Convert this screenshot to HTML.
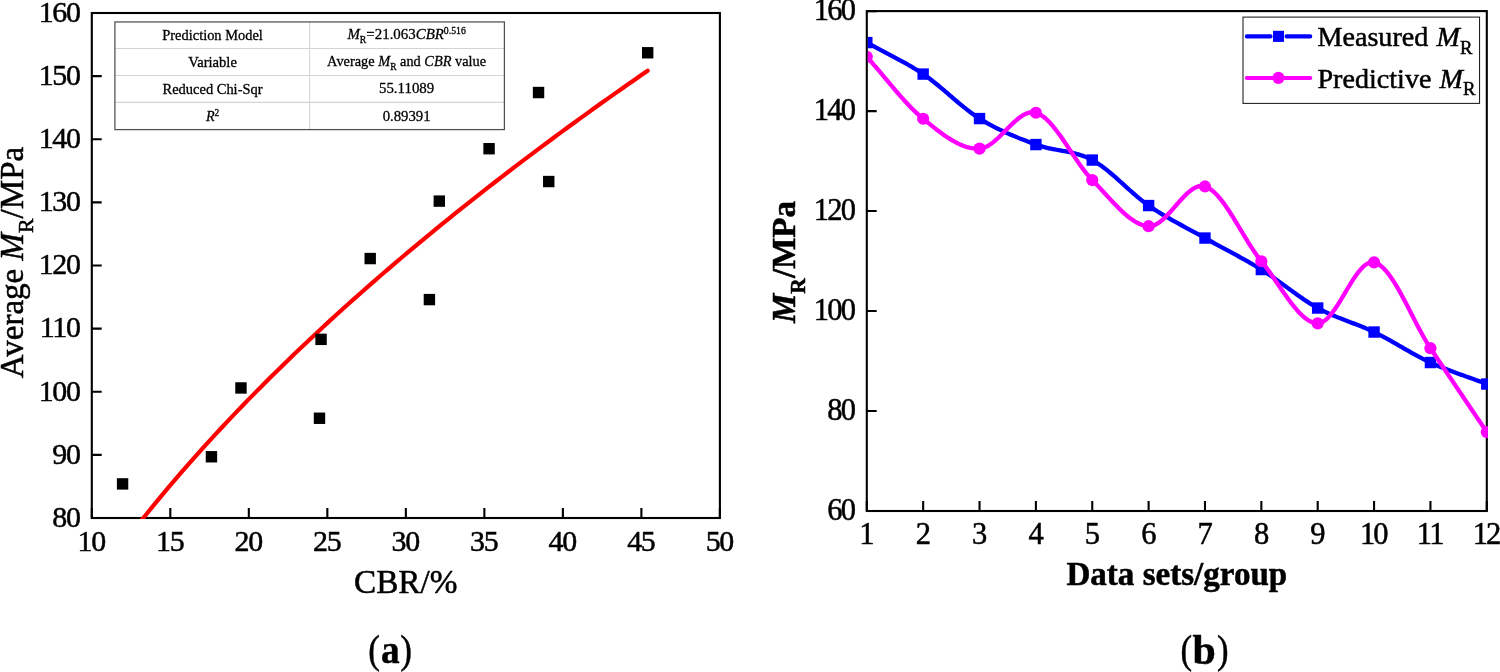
<!DOCTYPE html>
<html><head><meta charset="utf-8"><title>Figure</title>
<style>html,body{margin:0;padding:0;background:#fff;overflow:hidden}svg{display:block;will-change:transform}text{font-family:"Liberation Serif", serif;fill:#000;stroke:#000;stroke-width:0.5px;stroke-linejoin:round}</style></head><body>
<svg width="1500" height="672" viewBox="0 0 1500 672">
<rect x="0" y="0" width="1500" height="672" fill="#fff"/>
<defs>
<clipPath id="cl"><rect x="92.85" y="14.05" width="628.10" height="505.00"/></clipPath>
<clipPath id="cr"><rect x="867.85" y="12.15" width="620.00" height="499.90"/></clipPath>
</defs>
<g id="left">
<rect x="91.8" y="13.0" width="628.10" height="505.00" fill="none" stroke="#000" stroke-width="2.1"/>
<path d="M91.80,518.0v-9.9 M170.31,518.0v-9.9 M248.82,518.0v-9.9 M327.34,518.0v-9.9 M405.85,518.0v-9.9 M484.36,518.0v-9.9 M562.88,518.0v-9.9 M641.39,518.0v-9.9 M719.90,518.0v-9.9 M91.8,518.00h9.9 M91.8,454.88h9.9 M91.8,391.75h9.9 M91.8,328.62h9.9 M91.8,265.50h9.9 M91.8,202.38h9.9 M91.8,139.25h9.9 M91.8,76.12h9.9 M91.8,13.00h9.9" stroke="#000" stroke-width="2.1" fill="none"/>
<g clip-path="url(#cl)"><polyline points="122.58,544.56 129.22,535.89 135.87,527.37 142.52,518.98 149.16,510.73 155.81,502.59 162.46,494.57 169.10,486.67 175.75,478.87 182.40,471.18 189.04,463.59 195.69,456.09 202.34,448.68 208.98,441.36 215.63,434.13 222.28,426.98 228.92,419.91 235.57,412.92 242.22,406.00 248.86,399.15 255.51,392.37 262.16,385.66 268.80,379.02 275.45,372.44 282.10,365.92 288.75,359.46 295.39,353.06 302.04,346.71 308.69,340.43 315.33,334.19 321.98,328.01 328.63,321.88 335.27,315.80 341.92,309.77 348.57,303.78 355.21,297.84 361.86,291.95 368.51,286.10 375.15,280.30 381.80,274.53 388.45,268.81 395.09,263.13 401.74,257.49 408.39,251.88 415.03,246.32 421.68,240.79 428.33,235.30 434.97,229.84 441.62,224.42 448.27,219.04 454.91,213.68 461.56,208.36 468.21,203.07 474.85,197.82 481.50,192.59 488.15,187.40 494.79,182.24 501.44,177.10 508.09,172.00 514.73,166.92 521.38,161.87 528.03,156.85 534.67,151.86 541.32,146.89 547.97,141.95 554.61,137.03 561.26,132.14 567.91,127.28 574.55,122.44 581.20,117.62 587.85,112.83 594.49,108.06 601.14,103.32 607.79,98.60 614.43,93.90 621.08,89.22 627.73,84.56 634.38,79.93 641.02,75.32 647.67,70.72" fill="none" stroke="#ff0000" stroke-width="4.2" stroke-linecap="round" stroke-linejoin="round"/></g>
<rect x="641.97" y="47.07" width="11.4" height="11.4" fill="#000"/>
<rect x="532.84" y="86.84" width="11.4" height="11.4" fill="#000"/>
<rect x="483.37" y="143.02" width="11.4" height="11.4" fill="#000"/>
<rect x="543.04" y="175.84" width="11.4" height="11.4" fill="#000"/>
<rect x="433.60" y="195.41" width="11.4" height="11.4" fill="#000"/>
<rect x="364.51" y="252.86" width="11.4" height="11.4" fill="#000"/>
<rect x="423.70" y="293.89" width="11.4" height="11.4" fill="#000"/>
<rect x="315.36" y="333.66" width="11.4" height="11.4" fill="#000"/>
<rect x="235.27" y="382.26" width="11.4" height="11.4" fill="#000"/>
<rect x="313.79" y="412.56" width="11.4" height="11.4" fill="#000"/>
<rect x="205.75" y="451.07" width="11.4" height="11.4" fill="#000"/>
<rect x="116.88" y="478.21" width="11.4" height="11.4" fill="#000"/>
<g font-size="29.9" text-anchor="middle" letter-spacing="-1.3">
<text x="91.20" y="550.8">10</text>
<text x="169.71" y="550.8">15</text>
<text x="248.22" y="550.8">20</text>
<text x="326.74" y="550.8">25</text>
<text x="405.25" y="550.8">30</text>
<text x="483.76" y="550.8">35</text>
<text x="562.27" y="550.8">40</text>
<text x="640.79" y="550.8">45</text>
<text x="719.30" y="550.8">50</text>
</g>
<g font-size="29.9" text-anchor="end" letter-spacing="-1.3">
<text x="79.60" y="526.80">80</text>
<text x="79.60" y="463.68">90</text>
<text x="79.60" y="400.55">100</text>
<text x="79.60" y="337.43">110</text>
<text x="79.60" y="274.30">120</text>
<text x="79.60" y="211.18">130</text>
<text x="79.60" y="148.05">140</text>
<text x="79.60" y="84.92">150</text>
<text x="79.60" y="21.80">160</text>
</g>
<text transform="translate(405.70,592.70) scale(0.99,1)" font-size="33.6" text-anchor="middle" >CBR/%</text>
<text transform="translate(23.1,262.5) rotate(-90)" font-size="33.05" text-anchor="middle">Average <tspan font-style="italic">M</tspan><tspan font-size="21.8" dy="9.7">R</tspan><tspan dy="-9.7">/MPa</tspan></text>
<text transform="translate(379.90,663.20) scale(0.88,1)" font-size="40" text-anchor="end" >(</text>
<text transform="translate(390.20,663.30) scale(0.925,1)" font-size="40.3" text-anchor="middle" font-weight="bold">a</text>
<text transform="translate(400.30,663.20) scale(0.88,1)" font-size="40" text-anchor="start" >)</text>
<rect x="114.9" y="21.95" width="389.50" height="107.65" fill="#fff"/>
<path d="M114.9,48.5H504.4 M114.9,75.5H504.4 M114.9,102.4H504.4 M309.6,21.95V129.6" stroke="#d4d4d4" stroke-width="1.1" fill="none"/>
<rect x="114.9" y="21.95" width="389.50" height="107.65" fill="none" stroke="#505050" stroke-width="1.25"/>
<g>
</g>
<text transform="translate(212.55,40.08) scale(0.943,1)" font-size="15.3" text-anchor="middle" style="stroke-width:0.3px">Prediction Model</text>
<text transform="translate(406.60,39.28) scale(0.975,1)" font-size="15.3" text-anchor="middle" style="stroke-width:0.3px"><tspan font-style="italic">M</tspan><tspan font-size="10" dy="4.2">R</tspan><tspan dy="-4.2">=21.063</tspan><tspan font-style="italic">CBR</tspan><tspan font-size="10" dy="-5.5">0.516</tspan></text>
<text transform="translate(212.55,66.85) scale(0.956,1)" font-size="15.3" text-anchor="middle" style="stroke-width:0.3px">Variable</text>
<text transform="translate(406.60,65.95) scale(0.938,1)" font-size="15.3" text-anchor="middle" style="stroke-width:0.3px">Average <tspan font-style="italic">M</tspan><tspan font-size="10" dy="4.2">R</tspan><tspan dy="-4.2"> and </tspan><tspan font-style="italic">CBR</tspan> value</text>
<text transform="translate(212.55,93.80) scale(0.946,1)" font-size="15.3" text-anchor="middle" style="stroke-width:0.3px">Reduced Chi-Sqr</text>
<text transform="translate(406.60,93.40) scale(0.975,1)" font-size="15.3" text-anchor="middle" style="stroke-width:0.3px">55.11089</text>
<text transform="translate(212.55,121.25) scale(0.93,1)" font-size="15.3" text-anchor="middle" style="stroke-width:0.3px"><tspan font-style="italic">R</tspan><tspan font-size="10" dy="-5.5">2</tspan></text>
<text transform="translate(406.60,120.65) scale(0.965,1)" font-size="15.3" text-anchor="middle" style="stroke-width:0.3px">0.89391</text>
</g>
<g id="right">
<rect x="866.8" y="11.1" width="620.00" height="499.90" fill="none" stroke="#000" stroke-width="2.1"/>
<path d="M866.80,511.0v-9.9 M923.16,511.0v-9.9 M979.53,511.0v-9.9 M1035.89,511.0v-9.9 M1092.25,511.0v-9.9 M1148.62,511.0v-9.9 M1204.98,511.0v-9.9 M1261.35,511.0v-9.9 M1317.71,511.0v-9.9 M1374.07,511.0v-9.9 M1430.44,511.0v-9.9 M1486.80,511.0v-9.9 M866.8,511.00h9.9 M866.8,411.02h9.9 M866.8,311.04h9.9 M866.8,211.06h9.9 M866.8,111.08h9.9 M866.8,11.10h9.9" stroke="#000" stroke-width="2.1" fill="none"/>
<g clip-path="url(#cr)">
<polyline points="866.80,42.59 868.68,43.64 870.56,44.67 872.44,45.68 874.32,46.69 876.19,47.69 878.07,48.68 879.95,49.67 881.83,50.65 883.71,51.63 885.59,52.61 887.47,53.59 889.35,54.57 891.22,55.55 893.10,56.54 894.98,57.53 896.86,58.53 898.74,59.54 900.62,60.55 902.50,61.58 904.38,62.63 906.25,63.68 908.13,64.76 910.01,65.85 911.89,66.96 913.77,68.09 915.65,69.24 917.53,70.41 919.41,71.61 921.28,72.84 923.16,74.09 925.04,75.38 926.92,76.71 928.80,78.09 930.68,79.51 932.56,80.96 934.44,82.45 936.32,83.96 938.19,85.50 940.07,87.06 941.95,88.64 943.83,90.23 945.71,91.84 947.59,93.45 949.47,95.06 951.35,96.68 953.22,98.29 955.10,99.89 956.98,101.49 958.86,103.07 960.74,104.64 962.62,106.18 964.50,107.70 966.38,109.19 968.25,110.66 970.13,112.08 972.01,113.47 973.89,114.82 975.77,116.12 977.65,117.38 979.53,118.58 981.41,119.74 983.28,120.87 985.16,121.97 987.04,123.05 988.92,124.10 990.80,125.13 992.68,126.13 994.56,127.11 996.44,128.07 998.32,129.00 1000.19,129.92 1002.07,130.81 1003.95,131.69 1005.83,132.55 1007.71,133.39 1009.59,134.21 1011.47,135.02 1013.35,135.82 1015.22,136.60 1017.10,137.37 1018.98,138.13 1020.86,138.88 1022.74,139.61 1024.62,140.34 1026.50,141.06 1028.38,141.78 1030.25,142.48 1032.13,143.18 1034.01,143.88 1035.89,144.57 1037.77,145.24 1039.65,145.85 1041.53,146.41 1043.41,146.93 1045.28,147.42 1047.16,147.86 1049.04,148.28 1050.92,148.68 1052.80,149.05 1054.68,149.41 1056.56,149.75 1058.44,150.09 1060.32,150.42 1062.19,150.76 1064.07,151.10 1065.95,151.46 1067.83,151.83 1069.71,152.22 1071.59,152.63 1073.47,153.07 1075.35,153.55 1077.22,154.06 1079.10,154.62 1080.98,155.22 1082.86,155.87 1084.74,156.58 1086.62,157.35 1088.50,158.19 1090.38,159.09 1092.25,160.07 1094.13,161.13 1096.01,162.26 1097.89,163.46 1099.77,164.73 1101.65,166.07 1103.53,167.46 1105.41,168.90 1107.28,170.39 1109.16,171.92 1111.04,173.49 1112.92,175.10 1114.80,176.73 1116.68,178.39 1118.56,180.06 1120.44,181.75 1122.32,183.45 1124.19,185.16 1126.07,186.86 1127.95,188.56 1129.83,190.25 1131.71,191.92 1133.59,193.58 1135.47,195.21 1137.35,196.81 1139.22,198.38 1141.10,199.92 1142.98,201.40 1144.86,202.84 1146.74,204.23 1148.62,205.56 1150.50,206.85 1152.38,208.11 1154.25,209.34 1156.13,210.55 1158.01,211.74 1159.89,212.91 1161.77,214.06 1163.65,215.18 1165.53,216.30 1167.41,217.39 1169.28,218.47 1171.16,219.54 1173.04,220.60 1174.92,221.65 1176.80,222.68 1178.68,223.71 1180.56,224.74 1182.44,225.75 1184.32,226.77 1186.19,227.78 1188.07,228.79 1189.95,229.80 1191.83,230.81 1193.71,231.83 1195.59,232.85 1197.47,233.87 1199.35,234.90 1201.22,235.94 1203.10,236.99 1204.98,238.05 1206.86,239.12 1208.74,240.17 1210.62,241.21 1212.50,242.25 1214.38,243.28 1216.25,244.31 1218.13,245.33 1220.01,246.34 1221.89,247.36 1223.77,248.37 1225.65,249.38 1227.53,250.39 1229.41,251.40 1231.28,252.41 1233.16,253.43 1235.04,254.44 1236.92,255.47 1238.80,256.49 1240.68,257.53 1242.56,258.57 1244.44,259.62 1246.32,260.67 1248.19,261.74 1250.07,262.82 1251.95,263.91 1253.83,265.01 1255.71,266.12 1257.59,267.25 1259.47,268.39 1261.35,269.55 1263.22,270.73 1265.10,271.94 1266.98,273.18 1268.86,274.44 1270.74,275.73 1272.62,277.03 1274.50,278.35 1276.38,279.69 1278.25,281.04 1280.13,282.40 1282.01,283.76 1283.89,285.14 1285.77,286.51 1287.65,287.89 1289.53,289.26 1291.41,290.63 1293.28,292.00 1295.16,293.35 1297.04,294.69 1298.92,296.02 1300.80,297.34 1302.68,298.63 1304.56,299.91 1306.44,301.16 1308.32,302.38 1310.19,303.58 1312.07,304.75 1313.95,305.88 1315.83,306.98 1317.71,308.04 1319.59,309.06 1321.47,310.05 1323.35,311.00 1325.22,311.92 1327.10,312.80 1328.98,313.66 1330.86,314.50 1332.74,315.31 1334.62,316.10 1336.50,316.87 1338.38,317.63 1340.25,318.37 1342.13,319.10 1344.01,319.82 1345.89,320.54 1347.77,321.25 1349.65,321.96 1351.53,322.67 1353.41,323.38 1355.28,324.09 1357.16,324.82 1359.04,325.55 1360.92,326.29 1362.80,327.05 1364.68,327.83 1366.56,328.62 1368.44,329.44 1370.32,330.28 1372.19,331.14 1374.07,332.04 1375.95,332.96 1377.83,333.90 1379.71,334.86 1381.59,335.85 1383.47,336.85 1385.35,337.86 1387.22,338.89 1389.10,339.94 1390.98,340.99 1392.86,342.05 1394.74,343.12 1396.62,344.20 1398.50,345.28 1400.38,346.36 1402.25,347.44 1404.13,348.52 1406.01,349.60 1407.89,350.67 1409.77,351.73 1411.65,352.79 1413.53,353.84 1415.41,354.87 1417.28,355.90 1419.16,356.90 1421.04,357.89 1422.92,358.86 1424.80,359.82 1426.68,360.74 1428.56,361.65 1430.44,362.53 1432.38,363.42 1434.32,364.28 1436.27,365.13 1438.21,365.96 1440.15,366.77 1442.10,367.56 1444.04,368.34 1445.98,369.11 1447.93,369.86 1449.87,370.61 1451.82,371.34 1453.76,372.06 1455.70,372.78 1457.65,373.49 1459.59,374.19 1461.53,374.89 1463.48,375.58 1465.42,376.27 1467.36,376.96 1469.31,377.65 1471.25,378.34 1473.19,379.04 1475.14,379.73 1477.08,380.43 1479.03,381.13 1480.97,381.84 1482.91,382.56 1484.86,383.29 1486.80,384.03" fill="none" stroke="#0000ff" stroke-width="4.3" stroke-linejoin="round"/>
<rect x="861.10" y="36.89" width="11.4" height="11.4" fill="#0000ff"/>
<rect x="917.46" y="68.39" width="11.4" height="11.4" fill="#0000ff"/>
<rect x="973.83" y="112.88" width="11.4" height="11.4" fill="#0000ff"/>
<rect x="1030.19" y="138.87" width="11.4" height="11.4" fill="#0000ff"/>
<rect x="1086.55" y="154.37" width="11.4" height="11.4" fill="#0000ff"/>
<rect x="1142.92" y="199.86" width="11.4" height="11.4" fill="#0000ff"/>
<rect x="1199.28" y="232.35" width="11.4" height="11.4" fill="#0000ff"/>
<rect x="1255.65" y="263.85" width="11.4" height="11.4" fill="#0000ff"/>
<rect x="1312.01" y="302.34" width="11.4" height="11.4" fill="#0000ff"/>
<rect x="1368.37" y="326.34" width="11.4" height="11.4" fill="#0000ff"/>
<rect x="1424.74" y="356.83" width="11.4" height="11.4" fill="#0000ff"/>
<rect x="1481.10" y="378.33" width="11.4" height="11.4" fill="#0000ff"/>
<polyline points="866.80,56.81 868.68,58.90 870.56,61.01 872.44,63.15 874.32,65.32 876.19,67.51 878.07,69.72 879.95,71.94 881.83,74.17 883.71,76.41 885.59,78.66 887.47,80.90 889.35,83.14 891.22,85.37 893.10,87.59 894.98,89.80 896.86,91.99 898.74,94.16 900.62,96.30 902.50,98.42 904.38,100.50 906.25,102.55 908.13,104.55 910.01,106.52 911.89,108.44 913.77,110.31 915.65,112.12 917.53,113.88 919.41,115.58 921.28,117.21 923.16,118.77 925.04,120.31 926.92,121.83 928.80,123.36 930.68,124.87 932.56,126.37 934.44,127.85 936.32,129.32 938.19,130.75 940.07,132.16 941.95,133.54 943.83,134.88 945.71,136.19 947.59,137.45 949.47,138.66 951.35,139.82 953.22,140.93 955.10,141.98 956.98,142.97 958.86,143.89 960.74,144.74 962.62,145.52 964.50,146.23 966.38,146.85 968.25,147.39 970.13,147.84 972.01,148.20 973.89,148.46 975.77,148.62 977.65,148.69 979.53,148.64 981.41,148.41 983.28,147.94 985.16,147.25 987.04,146.35 988.92,145.27 990.80,144.02 992.68,142.62 994.56,141.10 996.44,139.46 998.32,137.73 1000.19,135.93 1002.07,134.07 1003.95,132.18 1005.83,130.27 1007.71,128.36 1009.59,126.48 1011.47,124.63 1013.35,122.84 1015.22,121.13 1017.10,119.52 1018.98,118.01 1020.86,116.65 1022.74,115.43 1024.62,114.39 1026.50,113.53 1028.38,112.89 1030.25,112.47 1032.13,112.29 1034.01,112.39 1035.89,112.76 1037.77,113.41 1039.65,114.29 1041.53,115.41 1043.41,116.73 1045.28,118.25 1047.16,119.95 1049.04,121.82 1050.92,123.85 1052.80,126.02 1054.68,128.32 1056.56,130.74 1058.44,133.25 1060.32,135.86 1062.19,138.53 1064.07,141.27 1065.95,144.05 1067.83,146.86 1069.71,149.69 1071.59,152.52 1073.47,155.35 1075.35,158.15 1077.22,160.91 1079.10,163.63 1080.98,166.27 1082.86,168.84 1084.74,171.32 1086.62,173.69 1088.50,175.94 1090.38,178.06 1092.25,180.03 1094.13,181.94 1096.01,183.90 1097.89,185.89 1099.77,187.90 1101.65,189.94 1103.53,191.99 1105.41,194.04 1107.28,196.09 1109.16,198.14 1111.04,200.16 1112.92,202.17 1114.80,204.14 1116.68,206.07 1118.56,207.96 1120.44,209.80 1122.32,211.58 1124.19,213.29 1126.07,214.93 1127.95,216.48 1129.83,217.95 1131.71,219.33 1133.59,220.60 1135.47,221.76 1137.35,222.80 1139.22,223.72 1141.10,224.51 1142.98,225.15 1144.86,225.66 1146.74,226.01 1148.62,226.20 1150.50,226.15 1152.38,225.80 1154.25,225.19 1156.13,224.32 1158.01,223.22 1159.89,221.91 1161.77,220.42 1163.65,218.77 1165.53,216.98 1167.41,215.07 1169.28,213.06 1171.16,210.98 1173.04,208.85 1174.92,206.69 1176.80,204.53 1178.68,202.38 1180.56,200.27 1182.44,198.22 1184.32,196.25 1186.19,194.39 1188.07,192.65 1189.95,191.07 1191.83,189.66 1193.71,188.44 1195.59,187.43 1197.47,186.67 1199.35,186.16 1201.22,185.94 1203.10,186.03 1204.98,186.44 1206.86,187.16 1208.74,188.13 1210.62,189.34 1212.50,190.78 1214.38,192.43 1216.25,194.27 1218.13,196.30 1220.01,198.50 1221.89,200.86 1223.77,203.36 1225.65,205.98 1227.53,208.72 1229.41,211.56 1231.28,214.48 1233.16,217.47 1235.04,220.52 1236.92,223.62 1238.80,226.74 1240.68,229.87 1242.56,233.00 1244.44,236.12 1246.32,239.22 1248.19,242.27 1250.07,245.26 1251.95,248.18 1253.83,251.02 1255.71,253.76 1257.59,256.38 1259.47,258.88 1261.35,261.24 1263.22,263.57 1265.10,266.00 1266.98,268.52 1268.86,271.10 1270.74,273.75 1272.62,276.44 1274.50,279.17 1276.38,281.92 1278.25,284.68 1280.13,287.44 1282.01,290.18 1283.89,292.90 1285.77,295.58 1287.65,298.21 1289.53,300.78 1291.41,303.27 1293.28,305.67 1295.16,307.97 1297.04,310.16 1298.92,312.23 1300.80,314.16 1302.68,315.94 1304.56,317.56 1306.44,319.00 1308.32,320.26 1310.19,321.32 1312.07,322.17 1313.95,322.80 1315.83,323.20 1317.71,323.34 1319.59,323.15 1321.47,322.55 1323.35,321.57 1325.22,320.25 1327.10,318.61 1328.98,316.68 1330.86,314.50 1332.74,312.09 1334.62,309.48 1336.50,306.71 1338.38,303.80 1340.25,300.78 1342.13,297.69 1344.01,294.54 1345.89,291.39 1347.77,288.24 1349.65,285.14 1351.53,282.11 1353.41,279.19 1355.28,276.40 1357.16,273.77 1359.04,271.33 1360.92,269.12 1362.80,267.16 1364.68,265.48 1366.56,264.12 1368.44,263.10 1370.32,262.45 1372.19,262.21 1374.07,262.39 1375.95,262.97 1377.83,263.86 1379.71,265.04 1381.59,266.50 1383.47,268.22 1385.35,270.19 1387.22,272.39 1389.10,274.80 1390.98,277.41 1392.86,280.20 1394.74,283.15 1396.62,286.24 1398.50,289.47 1400.38,292.81 1402.25,296.24 1404.13,299.76 1406.01,303.34 1407.89,306.97 1409.77,310.63 1411.65,314.30 1413.53,317.97 1415.41,321.63 1417.28,325.24 1419.16,328.81 1421.04,332.31 1422.92,335.72 1424.80,339.03 1426.68,342.23 1428.56,345.29 1430.44,348.19 1432.38,351.12 1434.32,354.04 1436.27,356.95 1438.21,359.86 1440.15,362.77 1442.10,365.67 1444.04,368.57 1445.98,371.47 1447.93,374.36 1449.87,377.25 1451.82,380.14 1453.76,383.03 1455.70,385.92 1457.65,388.80 1459.59,391.69 1461.53,394.57 1463.48,397.45 1465.42,400.33 1467.36,403.21 1469.31,406.09 1471.25,408.97 1473.19,411.85 1475.14,414.73 1477.08,417.62 1479.03,420.50 1480.97,423.38 1482.91,426.27 1484.86,429.16 1486.80,432.05" fill="none" stroke="#ff00ff" stroke-width="4.3" stroke-linejoin="round"/>
<circle cx="866.80" cy="56.81" r="6.1" fill="#ff00ff"/>
<circle cx="923.16" cy="118.77" r="6.1" fill="#ff00ff"/>
<circle cx="979.53" cy="148.64" r="6.1" fill="#ff00ff"/>
<circle cx="1035.89" cy="112.76" r="6.1" fill="#ff00ff"/>
<circle cx="1092.25" cy="180.03" r="6.1" fill="#ff00ff"/>
<circle cx="1148.62" cy="226.20" r="6.1" fill="#ff00ff"/>
<circle cx="1204.98" cy="186.44" r="6.1" fill="#ff00ff"/>
<circle cx="1261.35" cy="261.24" r="6.1" fill="#ff00ff"/>
<circle cx="1317.71" cy="323.34" r="6.1" fill="#ff00ff"/>
<circle cx="1374.07" cy="262.39" r="6.1" fill="#ff00ff"/>
<circle cx="1430.44" cy="348.19" r="6.1" fill="#ff00ff"/>
<circle cx="1486.80" cy="432.05" r="6.1" fill="#ff00ff"/>
</g>
<g font-size="30.5" text-anchor="middle" letter-spacing="-1.8">
<text x="866.10" y="544.0">1</text>
<text x="922.46" y="544.0">2</text>
<text x="978.83" y="544.0">3</text>
<text x="1035.19" y="544.0">4</text>
<text x="1091.55" y="544.0">5</text>
<text x="1147.92" y="544.0">6</text>
<text x="1204.28" y="544.0">7</text>
<text x="1260.65" y="544.0">8</text>
<text x="1317.01" y="544.0">9</text>
<text x="1373.37" y="544.0">10</text>
<text x="1429.74" y="544.0">11</text>
<text x="1486.10" y="544.0">12</text>
</g>
<g font-size="30.5" text-anchor="end" letter-spacing="-1.8">
<text x="854.20" y="520.20">60</text>
<text x="854.20" y="420.22">80</text>
<text x="854.20" y="320.24">100</text>
<text x="854.20" y="220.26">120</text>
<text x="854.20" y="120.28">140</text>
<text x="854.20" y="20.30">160</text>
</g>
<text x="1176.80" y="585.20" font-size="33.1" text-anchor="middle" font-weight="bold">Data sets/group</text>
<text transform="translate(795.0,262.0) rotate(-90)" font-size="33.1" font-weight="bold" text-anchor="middle"><tspan font-style="italic">M</tspan><tspan font-size="21.6" dy="9.5">R</tspan><tspan dy="-9.5">/MPa</tspan></text>
<text transform="translate(1192.10,663.30) scale(0.87,1)" font-size="40" text-anchor="end" >(</text>
<text transform="translate(1204.20,663.80) scale(1.01,1)" font-size="41.5" text-anchor="middle" font-weight="bold">b</text>
<text transform="translate(1217.00,663.30) scale(0.87,1)" font-size="40" text-anchor="start" >)</text>
<rect x="1243.0" y="17.1" width="236.55" height="86.30" fill="#fff" stroke="#1a1a1a" stroke-width="1.05"/>
<path d="M1246.9,36.4H1270.5M1286.6,36.4H1310.2" stroke="#0000ff" stroke-width="4.2" stroke-linecap="round" fill="none"/>
<rect x="1273.00" y="30.80" width="11" height="11.1" fill="#0000ff"/>
<path d="M1246.9,78.0H1310.2" stroke="#ff00ff" stroke-width="4.2" stroke-linecap="round" fill="none"/>
<circle cx="1278.45" cy="77.85" r="6.05" fill="#ff00ff"/>
<text x="1317.5" y="45.7" font-size="28.1">Measured <tspan font-style="italic" dx="1.2">M</tspan><tspan font-size="18.6" dy="7.8">R</tspan></text>
<text x="1317.5" y="87.6" font-size="28.1">Predictive <tspan font-style="italic" dx="1.2">M</tspan><tspan font-size="18.6" dy="7.8">R</tspan></text>
</g>
</svg></body></html>
